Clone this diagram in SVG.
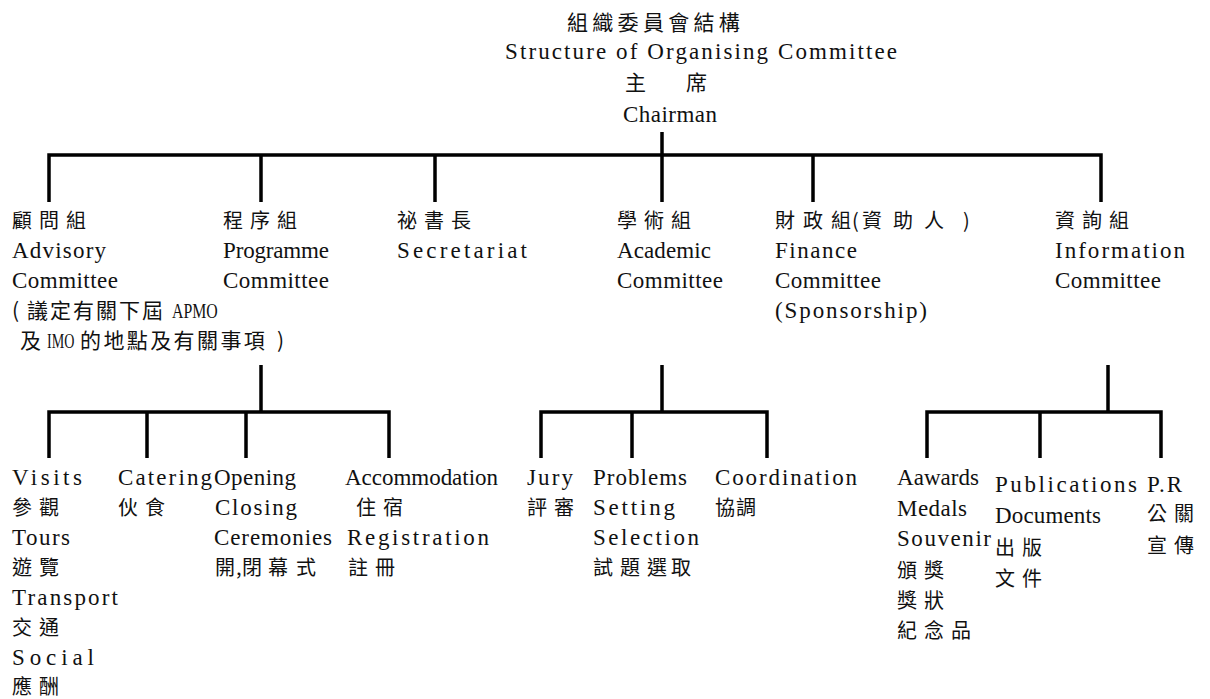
<svg xmlns="http://www.w3.org/2000/svg" width="1210" height="699" viewBox="0 0 1210 699">
<style>
.en{font-family:"Liberation Serif",serif;font-size:23px;fill:#111}
.zh{font-family:"Noto Sans CJK TC","Noto Sans CJK SC",sans-serif;font-size:20px;letter-spacing:7px;fill:#111}
.zt{font-family:"Noto Sans CJK TC","Noto Sans CJK SC",sans-serif;font-size:21px;fill:#111}
.ln{fill:none;stroke:#000;stroke-width:3.5;stroke-linejoin:miter;stroke-linecap:butt}
</style>
<rect width="1210" height="699" fill="#fff"/>
<g id="connectors">
<path class="ln" d="M662,132V155M49,202V155H1101V202M261,155V202M435,155V202M662,155V202M813,155V202"/>
<path class="ln" d="M261,365V412M49,458V412H389V458M147,412V458M246,412V458"/>
<path class="ln" d="M662,365V412M541,458V412H767V458M632,412V458"/>
<path class="ln" d="M1108,365V412M927,458V412H1161V458M1040,412V458"/>
</g>
<g id="title">
<text class="zh" x="567" y="30" style="letter-spacing:4.3px;font-size:21px">組織委員會結構</text>
<text class="en" x="505" y="59" textLength="392" lengthAdjust="spacing">Structure of Organising Committee</text>
<text class="zh" x="625 686" y="90" style="font-size:21px">主席</text>
<text class="en" x="623" y="122" textLength="94" lengthAdjust="spacing">Chairman</text>
</g>
<g id="advisory">
<text class="zh" x="12" y="228">顧問組</text>
<text class="en" x="12" y="258" textLength="94" lengthAdjust="spacing">Advisory</text>
<text class="en" x="12" y="288" textLength="106" lengthAdjust="spacing">Committee</text>
<text class="zt" x="12" y="318">(</text>
<text class="zt" x="27" y="318" style="letter-spacing:2px">議定有關下屆</text>
<text class="en" transform="translate(172,318) scale(0.72,1)" style="font-size:22px">APMO</text>
<text class="zt" x="20" y="348">及</text>
<text class="en" transform="translate(47,348) scale(0.64,1)" style="font-size:22px">IMO</text>
<text class="zt" x="80" y="348" style="letter-spacing:2.4px">的地點及有關事項</text>
<text class="zt" x="277" y="348">)</text>
</g>
<g id="programme">
<text class="zh" x="223" y="228">程序組</text>
<text class="en" x="223" y="258" textLength="106" lengthAdjust="spacing">Programme</text>
<text class="en" x="223" y="288" textLength="106" lengthAdjust="spacing">Committee</text>
</g>
<g id="secretariat">
<text class="zh" x="397" y="228">祕書長</text>
<text class="en" x="397" y="258" textLength="130" lengthAdjust="spacing">Secretariat</text>
</g>
<g id="academic">
<text class="zh" x="617" y="228">學術組</text>
<text class="en" x="617" y="258" textLength="94" lengthAdjust="spacing">Academic</text>
<text class="en" x="617" y="288" textLength="106" lengthAdjust="spacing">Committee</text>
</g>
<g id="finance">
<text class="zh" x="775 803 831 852 862 893 924 963" y="228" style="letter-spacing:0">財政組(資助人)</text>
<text class="en" x="775" y="258" textLength="82" lengthAdjust="spacing">Finance</text>
<text class="en" x="775" y="288" textLength="106" lengthAdjust="spacing">Committee</text>
<text class="en" x="775" y="318" textLength="152" lengthAdjust="spacing">(Sponsorship)</text>
</g>
<g id="information">
<text class="zh" x="1055" y="228">資詢組</text>
<text class="en" x="1055" y="258" textLength="130" lengthAdjust="spacing">Information</text>
<text class="en" x="1055" y="288" textLength="106" lengthAdjust="spacing">Committee</text>
</g>
<g id="visits">
<text class="en" x="12" y="485" textLength="70" lengthAdjust="spacing">Visits</text>
<text class="zh" x="12" y="515">參觀</text>
<text class="en" x="12" y="545" textLength="58" lengthAdjust="spacing">Tours</text>
<text class="zh" x="12" y="575">遊覽</text>
<text class="en" x="12" y="605" textLength="106" lengthAdjust="spacing">Transport</text>
<text class="zh" x="12" y="635">交通</text>
<text class="en" x="12" y="665" textLength="82" lengthAdjust="spacing">Social</text>
<text class="zh" x="12" y="694">應酬</text>
</g>
<g id="catering">
<text class="en" x="118" y="485" textLength="94" lengthAdjust="spacing">Catering</text>
<text class="zh" x="118" y="515">伙食</text>
</g>
<g id="ceremonies">
<text class="en" x="214" y="485" textLength="82" lengthAdjust="spacing">Opening</text>
<text class="en" x="215" y="515" textLength="82" lengthAdjust="spacing">Closing</text>
<text class="en" x="214" y="545" textLength="118" lengthAdjust="spacing">Ceremonies</text>
<text class="zh" x="215 236 242 268 296" y="575" style="letter-spacing:0">開,閉幕式</text>
</g>
<g id="accommodation">
<text class="en" x="345" y="485" textLength="153" lengthAdjust="spacing">Accommodation</text>
<text class="zh" x="356" y="515">住宿</text>
<text class="en" x="347" y="545" textLength="142" lengthAdjust="spacing">Registration</text>
<text class="zh" x="348" y="575">註冊</text>
</g>
<g id="jury">
<text class="en" x="527" y="485" textLength="46" lengthAdjust="spacing">Jury</text>
<text class="zh" x="527" y="515">評審</text>
</g>
<g id="problems">
<text class="en" x="593" y="485" textLength="94" lengthAdjust="spacing">Problems</text>
<text class="en" x="593" y="515" textLength="82" lengthAdjust="spacing">Setting</text>
<text class="en" x="593" y="545" textLength="106" lengthAdjust="spacing">Selection</text>
<text class="zh" x="593 620 647 671" y="575" style="letter-spacing:0">試題選取</text>
</g>
<g id="coordination">
<text class="en" x="715" y="485" textLength="142" lengthAdjust="spacing">Coordination</text>
<text class="zh" x="715" y="515" style="letter-spacing:1px">協調</text>
</g>
<g id="awards">
<text class="en" x="897" y="485" textLength="82" lengthAdjust="spacing">Aawards</text>
<text class="en" x="897" y="516" textLength="70" lengthAdjust="spacing">Medals</text>
<text class="en" x="897" y="546" textLength="94" lengthAdjust="spacing">Souvenir</text>
<text class="zh" x="897" y="578">頒獎</text>
<text class="zh" x="897" y="608">獎狀</text>
<text class="zh" x="897" y="638">紀念品</text>
</g>
<g id="publications">
<text class="en" x="995" y="492" textLength="142" lengthAdjust="spacing">Publications</text>
<text class="en" x="995" y="523" textLength="106" lengthAdjust="spacing">Documents</text>
<text class="zh" x="995" y="555">出版</text>
<text class="zh" x="995" y="586">文件</text>
</g>
<g id="pr">
<text class="en" x="1147" y="492" textLength="35" lengthAdjust="spacing">P.R</text>
<text class="zh" x="1147" y="521">公關</text>
<text class="zh" x="1147" y="553">宣傳</text>
</g>
</svg>
